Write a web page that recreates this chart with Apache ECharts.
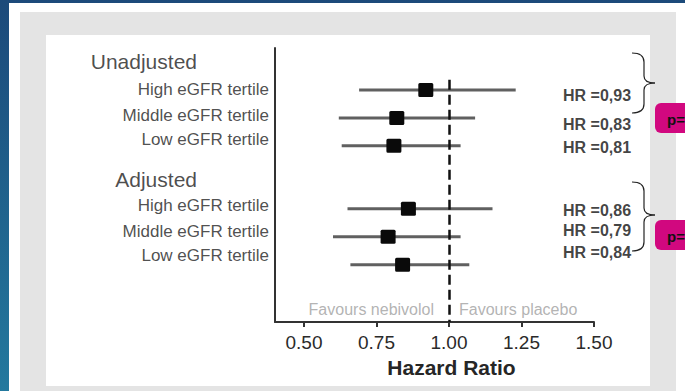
<!DOCTYPE html>
<html><head><meta charset="utf-8">
<script src="https://cdn.jsdelivr.net/npm/echarts@6/dist/echarts.min.js"></script>
<style>html,body{margin:0;padding:0;background:#fff}#c{width:685px;height:391px}</style>
</head><body><div id="c"></div>
<script>
// ---- data ----
var groups = ['Unadjusted', 'Adjusted'];
var groupRows = [0.5, 4.71];
var rowLabels = ['High eGFR tertile','Middle eGFR tertile','Low eGFR tertile','High eGFR tertile','Middle eGFR tertile','Low eGFR tertile'];
var labelRows = [1.5, 2.43, 3.29, 5.64, 6.57, 7.43];
var markerRows = [1.5, 2.5, 3.5, 5.75, 6.75, 7.75];
var pointEst = [0.92, 0.82, 0.81, 0.86, 0.79, 0.84];
var ciLow = [0.69, 0.62, 0.63, 0.65, 0.60, 0.66];
var ciHigh = [1.23, 1.09, 1.04, 1.15, 1.04, 1.07];
var hrText = ['HR =0,93','HR =0,83','HR =0,81','HR =0,86','HR =0,79','HR =0,84'];
var hrRows = [1.71, 2.75, 3.57, 5.82, 6.54, 7.32];
var xTicks = [0.5, 0.75, 1.0, 1.25, 1.5];
var xMin = 0.4, xMax = 1.5;
var yMin = 0, yMax = 9.8;
var refValue = 1.0;
var refTop = 1.14;
var favoursRow = 9.36;
var favoursText = ['Favours nebivolol', 'Favours placebo'];
var pText = ['p=', 'p='];

var chart = echarts.init(document.getElementById('c'), null, {renderer: 'svg'});

var ciData = ciLow.map(function (l, i) { return [l, ciHigh[i], pointEst[i], markerRows[i]]; });

function brace(x0, xv, xt, top, mid, bot) {
  var st = {fill: 'none', stroke: '#222', lineWidth: 1.2};
  return [
    {type: 'bezierCurve', silent: true, shape: {x1: x0, y1: top, cpx1: x0 + 8, cpy1: top, cpx2: xv, cpy2: top + 3, x2: xv, y2: top + 9}, style: st},
    {type: 'line', silent: true, shape: {x1: xv, y1: top + 9, x2: xv, y2: mid - 7}, style: st},
    {type: 'bezierCurve', silent: true, shape: {x1: xv, y1: mid - 7, cpx1: xv, cpy1: mid - 2, cpx2: xv + 4, cpy2: mid, x2: xt, y2: mid}, style: st},
    {type: 'bezierCurve', silent: true, shape: {x1: xt, y1: mid, cpx1: xv + 4, cpy1: mid, cpx2: xv, cpy2: mid + 2, x2: xv, y2: mid + 7}, style: st},
    {type: 'line', silent: true, shape: {x1: xv, y1: mid + 7, x2: xv, y2: bot - 9}, style: st},
    {type: 'bezierCurve', silent: true, shape: {x1: xv, y1: bot - 9, cpx1: xv, cpy1: bot - 3, cpx2: x0 + 8, cpy2: bot, x2: x0, y2: bot}, style: st}
  ];
}

var graphics = [
  {type: 'rect', z: -10, silent: true, shape: {x: 0, y: 0, width: 685, height: 391},
    style: {fill: new echarts.graphic.LinearGradient(0, 0, 0, 1, [{offset: 0, color: '#1c4a7a'}, {offset: 1, color: '#23799e'}])}},
  {type: 'rect', z: -9, silent: true, shape: {x: 9, y: 3, width: 676, height: 388}, style: {fill: '#ffffff'}},
  {type: 'rect', z: -8, silent: true, shape: {x: 20, y: 12, width: 656, height: 379}, style: {fill: '#e4e4e4'}},
  {type: 'rect', z: -7, silent: true, shape: {x: 46, y: 35, width: 604, height: 351}, style: {fill: '#ffffff'}},
  {type: 'rect', silent: true, shape: {x: 655, y: 103, width: 45, height: 30, r: 6}, style: {fill: '#d1087f'}},
  {type: 'rect', silent: true, shape: {x: 655, y: 220, width: 45, height: 30, r: 6}, style: {fill: '#d1087f'}},
  {type: 'text', silent: true, style: {x: 667, y: 119, text: pText[0], fontFamily: 'Liberation Sans', fontSize: 15, fontWeight: 'bold', fill: '#111', verticalAlign: 'middle'}},
  {type: 'text', silent: true, style: {x: 667, y: 236, text: pText[1], fontFamily: 'Liberation Sans', fontSize: 15, fontWeight: 'bold', fill: '#111', verticalAlign: 'middle'}}
].concat(brace(632, 644, 655, 53, 83, 113)).concat(brace(632, 644, 655, 182, 215, 251));

var option = {
  animation: false,
  backgroundColor: '#ffffff',
  grid: {left: 275, right: 91, top: 48, bottom: 69},
  xAxis: {
    type: 'value', min: xMin, max: xMax,
    name: 'Hazard Ratio', nameLocation: 'middle', nameGap: 35,
    nameTextStyle: {fontFamily: 'Liberation Sans', fontSize: 21, fontWeight: 'bold', color: '#262626', padding: [0, 0, 0, 34]},
    axisLine: {show: true, onZero: false, lineStyle: {color: '#333', width: 2}},
    axisTick: {show: true, customValues: xTicks, length: 5, lineStyle: {color: '#333', width: 2}},
    axisLabel: {customValues: xTicks, margin: 11, fontFamily: 'Liberation Sans', fontSize: 19, color: '#2a2a2a',
      formatter: function (v) { return v.toFixed(2); }},
    splitLine: {show: false}
  },
  yAxis: {
    type: 'value', min: yMin, max: yMax, inverse: true,
    axisLine: {show: true, onZero: false, lineStyle: {color: '#333', width: 2}},
    axisTick: {show: false}, axisLabel: {show: false}, splitLine: {show: false}
  },
  graphic: graphics,
  series: [
    {
      type: 'custom', name: 'CI', data: ciData, z: 3,
      renderItem: function (params, api) {
        var a = api.coord([api.value(0), api.value(3)]);
        var b = api.coord([api.value(1), api.value(3)]);
        var p = api.coord([api.value(2), api.value(3)]);
        return {type: 'group', children: [
          {type: 'line', shape: {x1: a[0], y1: a[1], x2: b[0], y2: b[1]}, style: {stroke: '#606060', lineWidth: 3}},
          {type: 'rect', shape: {x: p[0] - 7.5, y: p[1] - 7, width: 15, height: 14, r: 1.5}, style: {fill: '#0a0a0a'}}
        ]};
      }
    },
    {
      type: 'line', name: 'ref', data: [], silent: true,
      markLine: {symbol: 'none', silent: true, label: {show: false},
        lineStyle: {color: '#111', width: 2.5, type: [10, 5]},
        data: [[{coord: [refValue, refTop]}, {coord: [refValue, yMax]}]]}
    },
    {
      type: 'scatter', name: 'rowLabels', symbolSize: 0, silent: true,
      data: rowLabels.map(function (t, i) { return {value: [xMin, labelRows[i]], name: t}; }),
      label: {show: true, position: 'left', distance: 6, formatter: '{b}',
        fontFamily: 'Liberation Sans', fontSize: 17, color: '#222'}
    },
    {
      type: 'scatter', name: 'groups', symbolSize: 0, silent: true,
      data: groups.map(function (t, i) { return {value: [xMin, groupRows[i]], name: t}; }),
      label: {show: true, position: 'left', distance: 78, formatter: '{b}',
        fontFamily: 'Liberation Sans', fontSize: 21, color: '#1e1e1e'}
    },
    {
      type: 'scatter', name: 'hr', symbolSize: 0, silent: true,
      data: hrText.map(function (t, i) { return {value: [xMax, hrRows[i]], name: t}; }),
      label: {show: true, position: 'left', distance: 31, align: 'left', formatter: '{b}',
        fontFamily: 'Liberation Sans', fontSize: 16, fontWeight: 'bold', color: '#111'}
    },
    {
      type: 'scatter', name: 'favours', symbolSize: 0, silent: true,
      data: [{value: [refValue, favoursRow], name: favoursText[0], label: {position: 'left', distance: 15}},
             {value: [refValue, favoursRow], name: favoursText[1], label: {position: 'right', distance: 10}}],
      label: {show: true, formatter: '{b}', fontFamily: 'Liberation Sans', fontSize: 16, color: '#a0a0a0'}
    }
  ]
};
chart.setOption(option);
</script></body></html>
